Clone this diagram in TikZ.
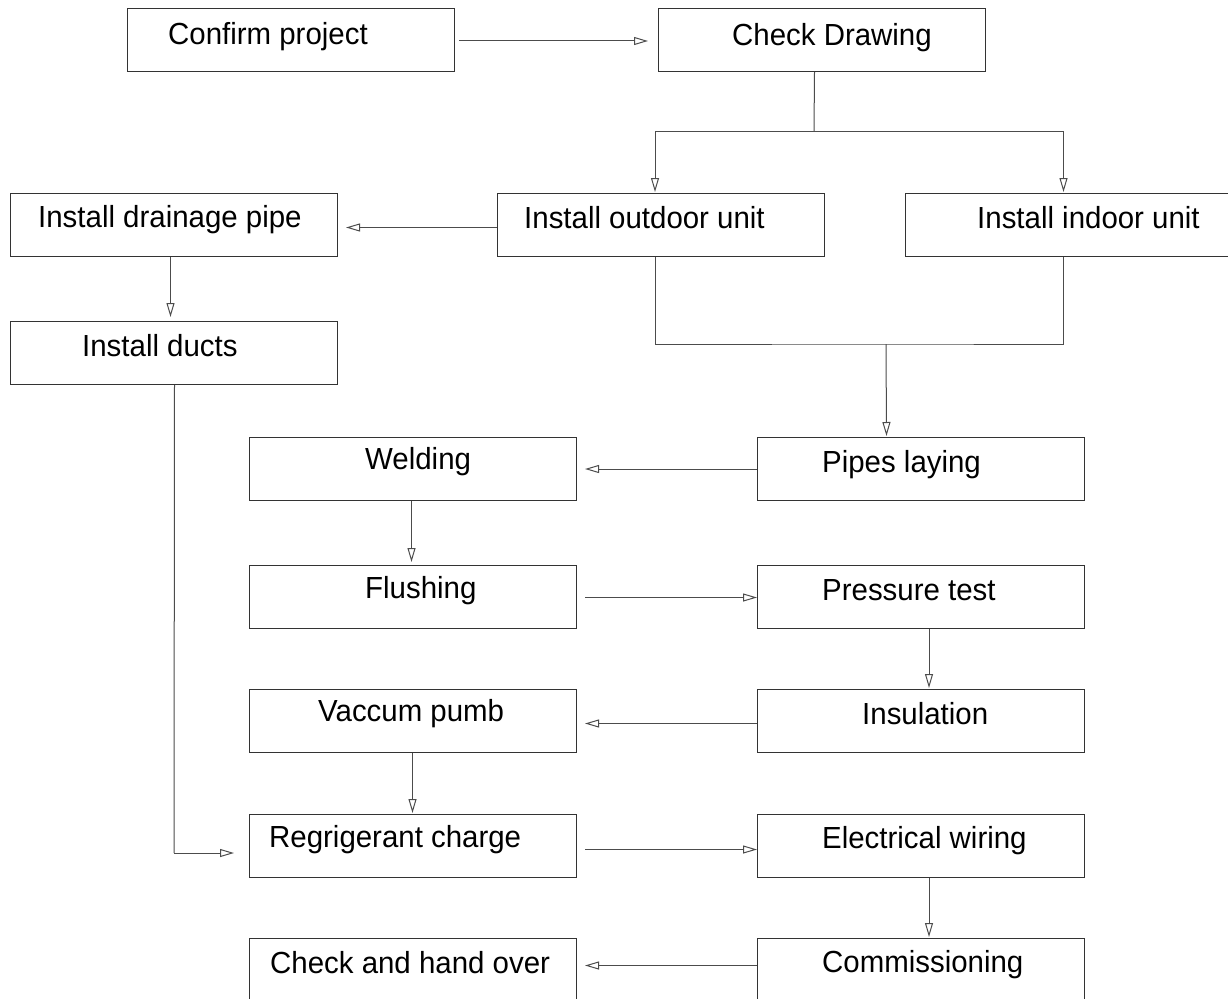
\documentclass[tikz,border=0pt]{standalone}
\usepackage{fontspec}
\setmainfont{Liberation Sans}[FakeStretch=0.965]
\usetikzlibrary{arrows.meta}
\begin{document}
\begin{tikzpicture}[x=1pt,y=-1pt,
  box/.style={draw=black!80, line width=1pt, minimum width=327pt, minimum height=63pt, inner sep=0pt, anchor=north west},
  lbl/.style={anchor=base west, inner sep=0pt, font=\fontsize{30.5}{36}\selectfont},
  arr/.style={draw=black!70, line width=1pt, -{Triangle[open, length=14pt, width=8pt]}},
  con/.style={draw=black!70, line width=1pt}]
\useasboundingbox (0,0) rectangle (1228,998);
\clip (0,0) rectangle (1228,998);
% boxes
\node[box] (A) at (127,8) {};
\node[box] (B) at (658,8) {};
\node[box] (C) at (10,193) {};
\node[box] (D) at (497,193) {};
\node[box, minimum width=340pt] (E) at (905,193) {};
\node[box] (F) at (10,321) {};
\node[box] (G) at (249,437) {};
\node[box] (H) at (757,437) {};
\node[box] (I) at (249,565) {};
\node[box] (J) at (757,565) {};
\node[box] (K) at (249,689) {};
\node[box] (L) at (757,689) {};
\node[box] (M) at (249,814) {};
\node[box] (N) at (757,814) {};
\node[box, minimum height=80pt] (O) at (249,938) {};
\node[box, minimum height=80pt] (P) at (757,938) {};
% labels
\node[lbl] (At) at (168,45) {Confirm project};
\node[lbl] (Bt) at (732,46) {Check Drawing};
\node[lbl] (Ct) at (38,227) {Install drainage pipe};
\node[lbl] (Dt) at (524,228) {Install outdoor unit};
\node[lbl] (Et) at (977,228) {Install indoor unit};
\node[lbl] (Ft) at (82,356) {Install ducts};
\node[lbl] (Gt) at (365,469) {Welding};
\node[lbl] (Ht) at (822,472) {Pipes laying};
\node[lbl] (It) at (365,598) {Flushing};
\node[lbl] (Jt) at (822,600) {Pressure test};
\node[lbl] (Kt) at (318,721) {Vaccum pumb};
\node[lbl] (Lt) at (862,724) {Insulation};
\node[lbl] (Mt) at (269,847) {Regrigerant charge};
\node[lbl] (Nt) at (822,848) {Electrical wiring};
\node[lbl] (Ot) at (270,973) {Check and hand over};
\node[lbl] (Pt) at (822,972) {Commissioning};
% junction coordinates
\coordinate (j1) at (814,131);
\coordinate (m1) at (886,344);
\coordinate (f1) at (174,853);
% connectors
\draw[arr] ([xshift=4pt,yshift=-1pt]A.east) -- ([xshift=-10pt,yshift=-1pt]B.west);
\draw[con] ([xshift=-7.5pt]B.south) -- (j1);
\draw[arr] (j1) -| ([xshift=-6pt,yshift=1pt]D.north);
\draw[arr] (j1) -| ([xshift=-12pt,yshift=1pt]E.north);
\draw[arr] ([yshift=-2.5pt]D.west) -- ([xshift=8pt,yshift=-2.5pt]C.east);
\draw[arr] ([xshift=-3.5pt]C.south) -- ([xshift=-3.5pt,yshift=4pt]F.north);
\draw[con] ([xshift=-6pt]D.south) |- (m1) -| ([xshift=-12pt]E.south);
\draw[arr] (m1) -- ([xshift=-34.5pt,yshift=1pt]H.north);
\draw[con] ([xshift=0.5pt]F.south) -- (f1);
\draw[arr] (f1) -- ([xshift=-15pt]f1 -| M.west);
\draw[arr] (H.west) -- ([xshift=8pt]G.east);
\draw[arr] ([xshift=-1.5pt]G.south) -- ([xshift=-1.5pt,yshift=3pt]I.north);
\draw[arr] ([xshift=8pt,yshift=-0.5pt]I.east) -- ([yshift=-0.5pt]J.west);
\draw[arr] ([xshift=8pt]J.south) -- ([xshift=8pt,yshift=1pt]L.north);
\draw[arr] ([yshift=-2.5pt]L.west) -- ([xshift=8pt,yshift=-2.5pt]K.east);
\draw[arr] ([xshift=-0.5pt]K.south) -- ([xshift=-0.5pt,yshift=1pt]M.north);
\draw[arr] ([xshift=8pt,yshift=-3.5pt]M.east) -- ([yshift=-3.5pt]N.west);
\draw[arr] ([xshift=8pt]N.south) -- ([xshift=8pt,yshift=1pt]P.north);
\draw[arr] ([yshift=13pt]P.west) -- ([xshift=8pt,yshift=13pt]O.east);
\end{tikzpicture}
\end{document}
